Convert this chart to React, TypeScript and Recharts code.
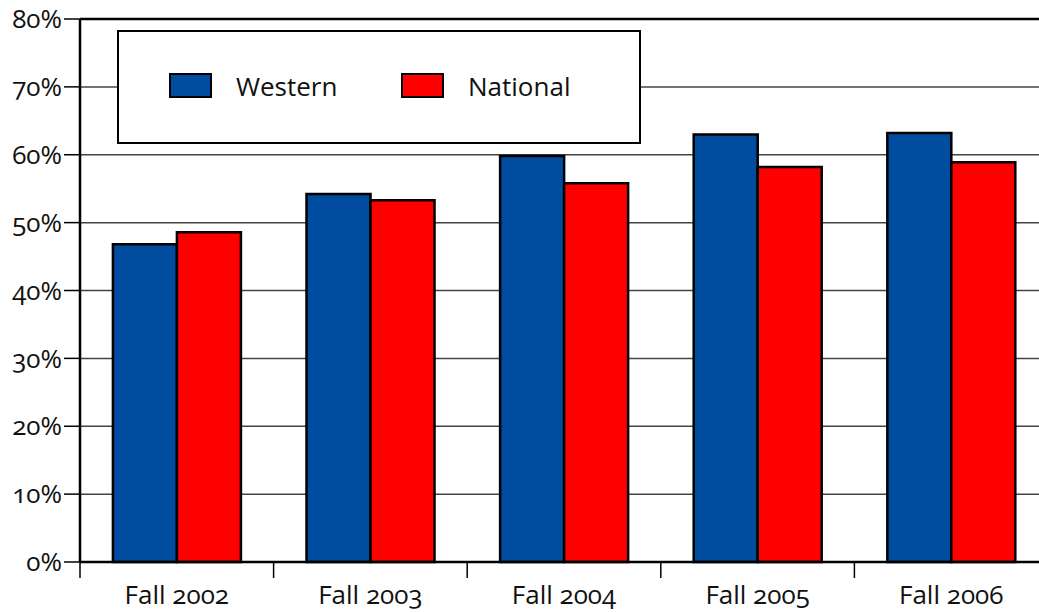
import React from 'react';
import {
  BarChart,
  Bar,
  XAxis,
  YAxis,
  CartesianGrid,
  Legend,
  ReferenceLine,
} from 'recharts';

// Semesters and shares
const categories = ['Fall 2002', 'Fall 2003', 'Fall 2004', 'Fall 2005', 'Fall 2006'];
const western = [46.8, 54.2, 59.8, 63.0, 63.2];
const national = [48.6, 53.3, 55.8, 58.2, 58.9];
const yTicks = [0, 10, 20, 30, 40, 50, 60, 70, 80];

const seriesNames = ['Western', 'National'];
const seriesColors = ['#004C9E', '#FF0000'];

const data = categories.map((name, i) => ({
  name,
  Western: western[i],
  National: national[i],
}));

const FONT = '"Open Sans", "DejaVu Sans", sans-serif';
const TEXT = '#111';
const FONT_SIZE = 26;

// x axis: label in the middle of each category, tick line on its left edge
const CategoryTick = (props: any) => {
  const { x, y, payload } = props;
  const half = payload && payload.offset ? payload.offset : 96.8;
  const axisY = y - 16;
  return (
    <g>
      <line x1={x - half} x2={x - half} y1={axisY} y2={axisY + 16} stroke="#000" strokeWidth={1.5} />
      <text
        x={x}
        y={y}
        dy={26}
        textAnchor="middle"
        fill={TEXT}
        fontSize={FONT_SIZE}
        fontFamily={FONT}
        style={{ fontVariantNumeric: 'oldstyle-nums' }}
      >
        {payload.value}
      </text>
    </g>
  );
};

const LegendBox = () => (
  <div
    style={{
      position: 'relative',
      width: 524,
      height: 114,
      boxSizing: 'border-box',
      border: '2.5px solid #000',
      background: '#fff',
      fontFamily: FONT,
      fontSize: FONT_SIZE,
      color: TEXT,
    }}
  >
    {seriesNames.map((name, i) => (
      <React.Fragment key={name}>
        <div
          style={{
            position: 'absolute',
            left: 50 + i * 232,
            top: 41,
            width: 43,
            height: 25,
            boxSizing: 'border-box',
            border: '2.5px solid #000',
            background: seriesColors[i],
          }}
        />
        <div
          style={{
            position: 'absolute',
            left: 117 + i * 232,
            top: 37,
            lineHeight: '34px',
          }}
        >
          {name}
        </div>
      </React.Fragment>
    ))}
  </div>
);

export default function App() {
  return (
    <div
      style={{
        position: 'absolute',
        left: 0,
        top: 0,
        width: 1039,
        height: 612,
        overflow: 'hidden',
        background: '#fff',
        fontFamily: FONT,
      }}
    >
      <BarChart
        width={1060}
        height={612}
        data={data}
        margin={{ top: 19, right: 12, left: 0, bottom: 0 }}
        barCategoryGap="17%"
        barGap={0}
      >
        <CartesianGrid vertical={false} stroke="#444" strokeWidth={1.5} />
        <YAxis
          domain={[0, 80]}
          ticks={yTicks}
          width={80}
          tickSize={16}
          tickMargin={2}
          tickFormatter={(v: number) => `${v}%`}
          axisLine={{ stroke: '#000', strokeWidth: 2.5 }}
          tickLine={{ stroke: '#000', strokeWidth: 1.5 }}
          tick={{ fill: TEXT, fontSize: FONT_SIZE, fontFamily: FONT, style: { fontVariantNumeric: 'oldstyle-nums' } }}
        />
        <XAxis
          dataKey="name"
          height={50}
          tickSize={16}
          tickMargin={0}
          interval={0}
          axisLine={{ stroke: '#000', strokeWidth: 2.5 }}
          tickLine={{ stroke: 'transparent' }}
          tick={<CategoryTick />}
        />
        <ReferenceLine y={80} stroke="#000" strokeWidth={2.5} />
        <Legend
          verticalAlign="middle"
          align="center"
          layout="horizontal"
          content={<LegendBox />}
          wrapperStyle={{ position: 'absolute', left: 117, top: 30, width: 524, height: 114 }}
        />
        {seriesNames.map((name, i) => (
          <Bar
            key={name}
            dataKey={name}
            fill={seriesColors[i]}
            stroke="#000"
            strokeWidth={2.5}
            isAnimationActive={false}
          />
        ))}
      </BarChart>
    </div>
  );
}
